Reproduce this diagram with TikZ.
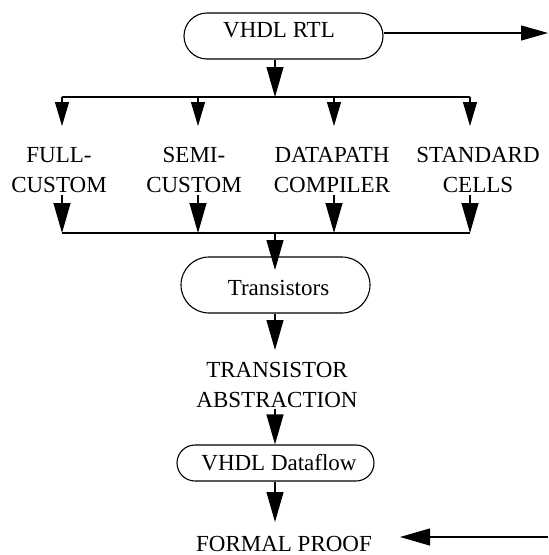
\documentclass[tikz,border=0pt]{standalone}
\usepackage{fontspec}
\setmainfont{Liberation Serif}
\usetikzlibrary{arrows.meta,shapes.misc}
\begin{document}
\begin{tikzpicture}[x=1pt,y=-1pt,line width=1.1pt,
  bigarrow/.style={-{Triangle[length=30pt,width=17pt]}},
  smallarrow/.style={-{Triangle[length=24pt,width=14pt]}},
  sidearrow/.style={-{Triangle[length=27pt,width=15pt]}},
  pill/.style={draw,rounded rectangle,inner sep=0pt,font=\fontsize{23}{30}\selectfont},
  lbl/.style={align=center,inner sep=0pt,font=\fontsize{23}{30}\selectfont}]
\useasboundingbox (0,0) rectangle (549,555);

% top box
\node[pill,minimum width=199pt,minimum height=46pt,text height=16pt,text depth=14pt] (rtl) at (283.5,36) {\hspace*{-9pt}VHDL RTL};
\coordinate (rout) at (548,33);
\draw[sidearrow] ([yshift=3pt]rtl.east) -- (rout);

% top bus
\coordinate (bm1) at (275,97);
\coordinate (ta) at (62,97);
\coordinate (tb) at (198,97);
\coordinate (tc) at (334,97);
\coordinate (td) at (470,97);
\draw[bigarrow] (rtl.south -| bm1) -- (bm1);
\draw (ta) -- (td);

\coordinate (pa) at (62,126);
\coordinate (pb) at (198,126);
\coordinate (pc) at (334,126);
\coordinate (pd) at (470,126);
\draw[smallarrow] (ta) -- (pa);
\draw[smallarrow] (tb) -- (pb);
\draw[smallarrow] (tc) -- (pc);
\draw[smallarrow] (td) -- (pd);

% labels (base anchor = baseline of the last line)
\node[lbl,anchor=base] (fc) at (59,192) {FULL-\\CUSTOM};
\node[lbl,anchor=base] (sc) at (194,192) {SEMI-\\CUSTOM};
\node[lbl,anchor=base] (dc) at (332,192) {DATAPATH\\COMPILER};
\node[lbl,anchor=base] (st) at (478,192) {STANDARD\\CELLS};

% bottom bus
\coordinate (ba) at (62,233);
\coordinate (bb) at (198,233);
\coordinate (bc) at (334,233);
\coordinate (bd) at (470,233);
\coordinate (bm2) at (275,233);
\draw[bigarrow] ([yshift=-2pt]fc.south -| ba) -- (ba);
\draw[bigarrow] ([yshift=-2pt]sc.south -| bb) -- (bb);
\draw[bigarrow] ([yshift=-2pt]dc.south -| bc) -- (bc);
\draw[bigarrow] ([yshift=-2pt]st.south -| bd) -- (bd);
\draw (ba) -- (bd);

% transistors
\node[pill,minimum width=189pt,minimum height=56pt,text height=20pt,text depth=0pt] (tr) at (275.5,285) {Transistors\hspace*{-6pt}};
\coordinate (trtip) at (275,270);
\draw[bigarrow] (bm2) -- (trtip);

\node[lbl,anchor=base] (ta2) at (277,407) {TRANSISTOR\\ABSTRACTION};
\coordinate (abtip) at (275,350);
\draw[bigarrow] (tr.south -| bm2) -- (abtip);

% dataflow
\node[pill,minimum width=197pt,minimum height=36pt] (df) at (275.5,463) {VHDL Dataflow\hspace*{-7pt}};
\draw[bigarrow] ([yshift=-1pt]ta2.south -| bm2) -- (df.north -| bm2);

% formal proof
\node[lbl,anchor=base] (fp) at (284,551) {FORMAL PROOF};
\coordinate (fptip) at (275,522);
\draw[bigarrow] (df.south -| bm2) -- (fptip);
\coordinate (lin) at (548,537);
\coordinate (lintip) at (400,537);
\draw[bigarrow] (lin) -- (lintip);
\end{tikzpicture}
\end{document}
